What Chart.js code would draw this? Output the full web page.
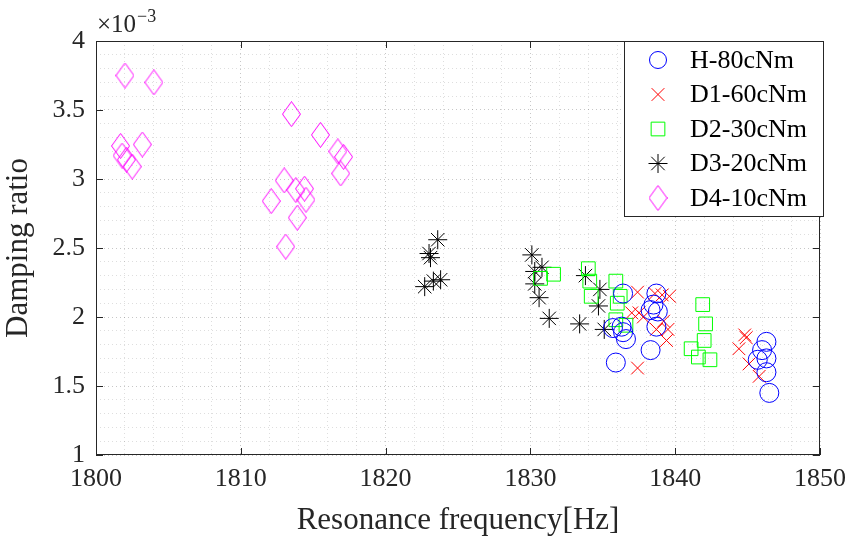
<!DOCTYPE html>
<html>
<head>
<meta charset="utf-8">
<script src="https://cdn.jsdelivr.net/npm/chart.js@4"></script>
<style>
  html, body { margin: 0; padding: 0; background: #fff; }
  #wrap { width: 855px; height: 541px; }
</style>
</head>
<body>
<div id="wrap"><canvas id="dampChart" width="855" height="541"></canvas></div>
<script>
// damping ratio values are in units of 1e-3 (see the x10^-3 label)
const hFreq  = [1836.4, 1838.7, 1838.5, 1838.3, 1838.8, 1838.7, 1835.7, 1836.3, 1836.4, 1836.6, 1838.3, 1835.9, 1846.3, 1846.0, 1846.3, 1845.7, 1846.3, 1846.5];
const hDamp  = [2.17, 2.17, 2.09, 2.05, 2.04, 1.93, 1.92, 1.93, 1.89, 1.84, 1.76, 1.67, 1.82, 1.76, 1.70, 1.69, 1.60, 1.45];

const d1Freq = [1837.4, 1838.6, 1839.1, 1839.6, 1837.0, 1837.5, 1837.8, 1839.2, 1838.7, 1839.5, 1839.4, 1837.4, 1844.8, 1844.9, 1844.4, 1845.1, 1845.8];
const d1Damp = [2.18, 2.17, 2.16, 2.15, 2.03, 2.03, 2.00, 1.97, 1.91, 1.91, 1.83, 1.63, 1.87, 1.85, 1.77, 1.66, 1.57];

const d2Freq = [1831.6, 1830.7, 1834.0, 1834.1, 1834.2, 1835.9, 1836.2, 1836.0, 1835.9, 1836.6, 1841.9, 1842.1, 1842.0, 1841.1, 1841.6, 1842.4];
const d2Damp = [2.31, 2.28, 2.35, 2.26, 2.15, 2.26, 2.15, 2.10, 1.98, 1.94, 2.09, 1.95, 1.83, 1.77, 1.71, 1.69];

const d3Freq = [1823.6, 1823.0, 1823.1, 1823.8, 1823.3, 1822.7, 1830.1, 1830.8, 1830.3, 1830.3, 1830.6, 1831.3, 1833.8, 1833.4, 1834.8, 1834.7, 1835.1];
const d3Damp = [2.56, 2.46, 2.43, 2.27, 2.26, 2.22, 2.45, 2.36, 2.33, 2.24, 2.14, 1.99, 2.30, 1.95, 2.20, 2.08, 1.91];

const d4Freq = [1802.0, 1804.0, 1801.7, 1803.2, 1801.8, 1802.5, 1802.1, 1813.5, 1815.5, 1816.7, 1817.1, 1816.9, 1813.0, 1812.1, 1813.8, 1814.4, 1814.5, 1813.9, 1813.1];
const d4Damp = [3.75, 3.70, 3.24, 3.25, 3.17, 3.09, 3.14, 3.47, 3.32, 3.20, 3.16, 3.04, 2.99, 2.84, 2.92, 2.93, 2.85, 2.72, 2.51];

const seriesNames = ['H-80cNm', 'D1-60cNm', 'D2-30cNm', 'D3-20cNm', 'D4-10cNm'];
const xMajor = [1800, 1810, 1820, 1830, 1840, 1850];
const yMajor = [1, 1.5, 2, 2.5, 3, 3.5, 4];

const FONT = "'Liberation Serif', 'Times New Roman', serif";
const AXIS = '#262626';

function pts(xs, ys) {
    return xs.map((x, i) => ({ x: x, y: ys[i] }));
}

// MATLAB style diamond is taller than wide
function diamondImg() {
    const c = document.createElement('canvas');
    c.width = 19; c.height = 26;
    const g = c.getContext('2d');
    g.strokeStyle = '#ff00ff';
    g.lineWidth = 1;
    g.beginPath();
    g.moveTo(9.5, 0.5); g.lineTo(18.5, 13); g.lineTo(9.5, 25.5); g.lineTo(0.5, 13);
    g.closePath();
    g.stroke();
    return c;
}
const diamond = diamondImg();

const styles = [
    { color: '#0000ff', pointStyle: 'circle', radius: 9.5 },
    { color: '#ff0000', pointStyle: 'crossRot', radius: 9 },
    { color: '#00ff00', pointStyle: 'rect', radius: 9.7 },
    { color: '#000000', pointStyle: 'star', radius: 9.5 },
    { color: '#ff00ff', pointStyle: diamond, radius: 10 }
];
const allData = [pts(hFreq, hDamp), pts(d1Freq, d1Damp), pts(d2Freq, d2Damp), pts(d3Freq, d3Damp), pts(d4Freq, d4Damp)];

const datasets = allData.map((d, i) => ({
    label: seriesNames[i],
    data: d,
    showLine: false,
    pointStyle: styles[i].pointStyle,
    pointRadius: styles[i].radius,
    pointBorderWidth: 1,
    borderColor: styles[i].color,
    backgroundColor: 'rgba(0,0,0,0)'
}));

function drawSymbol(ctx, i, x, y) {
    const s = styles[i];
    const r = s.radius;
    ctx.save();
    ctx.strokeStyle = s.color;
    ctx.lineWidth = 1;
    ctx.beginPath();
    if (i === 0) {
        ctx.arc(x, y, 8.5, 0, Math.PI * 2);
    } else if (i === 1) {
        const h = 0.707 * r;
        ctx.moveTo(x - h, y - h); ctx.lineTo(x + h, y + h);
        ctx.moveTo(x + h, y - h); ctx.lineTo(x - h, y + h);
    } else if (i === 2) {
        const h = 0.707 * r;
        ctx.rect(x - h, y - h, 2 * h, 2 * h);
    } else if (i === 3) {
        const h = 0.707 * r;
        ctx.moveTo(x, y - r); ctx.lineTo(x, y + r);
        ctx.moveTo(x - r, y); ctx.lineTo(x + r, y);
        ctx.moveTo(x - h, y - h); ctx.lineTo(x + h, y + h);
        ctx.moveTo(x + h, y - h); ctx.lineTo(x - h, y + h);
    } else {
        ctx.drawImage(diamond, x - diamond.width / 2, y - diamond.height / 2);
    }
    ctx.stroke();
    ctx.restore();
}

const framePlugin = {
    id: 'matlabFrame',
    afterDraw(chart) {
        const ctx = chart.ctx;
        const a = chart.chartArea;
        const xs = chart.scales.x, ys = chart.scales.y;
        ctx.save();
        ctx.strokeStyle = AXIS;
        ctx.lineWidth = 1;
        ctx.strokeRect(a.left + 0.5, a.top + 0.5, a.right - a.left - 1, a.bottom - a.top - 1);
        ctx.beginPath();
        const tl = 7;
        xMajor.forEach(v => {
            const px = Math.round(xs.getPixelForValue(v)) + 0.5;
            ctx.moveTo(px, a.bottom); ctx.lineTo(px, a.bottom - tl);
            ctx.moveTo(px, a.top); ctx.lineTo(px, a.top + tl);
        });
        yMajor.forEach(v => {
            const py = Math.round(ys.getPixelForValue(v)) + 0.5;
            ctx.moveTo(a.left, py); ctx.lineTo(a.left + tl, py);
            ctx.moveTo(a.right, py); ctx.lineTo(a.right - tl, py);
        });
        ctx.stroke();

        // exponent label
        ctx.fillStyle = AXIS;
        ctx.textBaseline = 'alphabetic';
        ctx.textAlign = 'left';
        ctx.font = '25px ' + FONT;
        ctx.fillText('\u00d710', 97, 32);
        const w = ctx.measureText('\u00d710').width;
        ctx.font = '18px ' + FONT;
        ctx.fillText('\u22123', 97 + w + 1, 22);

        // legend box
        const lx = 624, ly = 41, lw = 200, lh = 176;
        ctx.fillStyle = '#fff';
        ctx.fillRect(lx, ly, lw, lh);
        ctx.strokeStyle = AXIS;
        ctx.strokeRect(lx + 0.5, ly + 0.5, lw - 1, lh - 1);
        ctx.font = '26px ' + FONT;
        ctx.textBaseline = 'middle';
        ctx.fillStyle = '#000';
        seriesNames.forEach((name, i) => {
            const ry = 60 + i * 34.5;
            drawSymbol(ctx, i, 658, ry);
            ctx.fillText(name, 690, ry + 1);
        });
        ctx.restore();
    }
};

const ctx = document.getElementById('dampChart');
const dampChart = new Chart(ctx, {
    type: 'scatter',
    data: { datasets: datasets },
    options: {
        responsive: false,
        animation: false,
        events: [],
        layout: { padding: { top: 41, right: 30, left: 0, bottom: 0 } },
        plugins: {
            legend: { display: false },
            tooltip: { enabled: false }
        },
        scales: {
            x: {
                type: 'linear',
                min: 1800, max: 1850,
                afterFit: s => { s.height = 86; },
                ticks: {
                    stepSize: 2,
                    maxTicksLimit: 100,
                    autoSkip: false,
                    maxRotation: 0,
                    padding: 9,
                    color: AXIS,
                    font: { family: FONT, size: 26 },
                    callback: v => (Math.round(v) % 10 === 0 ? String(Math.round(v)) : '')
                },
                grid: {
                    drawTicks: false,
                    color: c => (c.tick && Math.round(c.tick.value) % 10 === 0) ? 'rgba(0,0,0,0.22)' : 'rgba(0,0,0,0.13)'
                },
                border: { display: false, dash: [1, 3] },
                title: {
                    display: true,
                    text: 'Resonance frequency[Hz]',
                    color: AXIS,
                    font: { family: FONT, size: 31 },
                    padding: { top: 0, bottom: 2 }
                }
            },
            y: {
                type: 'linear',
                min: 1, max: 4,
                afterFit: s => { s.width = 96; },
                ticks: {
                    stepSize: 0.1,
                    maxTicksLimit: 100,
                    autoSkip: false,
                    padding: 11,
                    color: AXIS,
                    font: { family: FONT, size: 26 },
                    callback: v => {
                        const r = Math.round(v * 10);
                        return r % 5 === 0 ? String(r / 10) : '';
                    }
                },
                grid: {
                    drawTicks: false,
                    color: c => {
                        const r = c.tick ? Math.round(c.tick.value * 10) : 1;
                        return r % 5 === 0 ? 'rgba(0,0,0,0.22)' : 'rgba(0,0,0,0.13)';
                    }
                },
                border: { display: false, dash: [1, 3] },
                title: {
                    display: true,
                    text: 'Damping ratio',
                    color: AXIS,
                    font: { family: FONT, size: 31 },
                    padding: { top: 0, bottom: 7 }
                }
            }
        }
    },
    plugins: [framePlugin]
});
</script>
</body>
</html>
